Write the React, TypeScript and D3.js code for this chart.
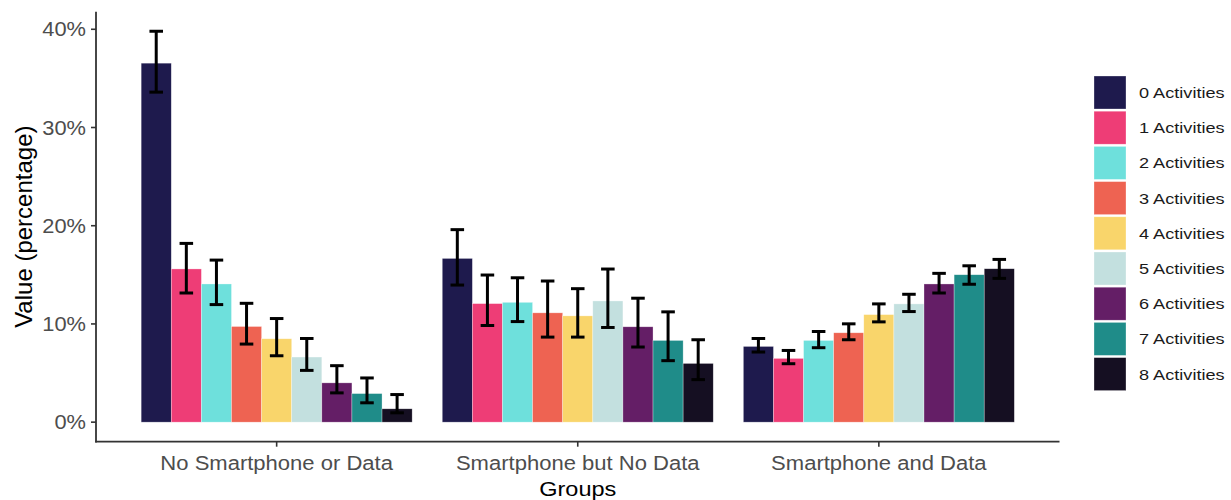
import React from "react";
import * as d3 from "d3";

const groups = ["No Smartphone or Data", "Smartphone but No Data", "Smartphone and Data"];
const activities = [
  "0 Activities", "1 Activities", "2 Activities", "3 Activities", "4 Activities",
  "5 Activities", "6 Activities", "7 Activities", "8 Activities",
];
const colors = ["#1e1a4d", "#ee3d76", "#6ee0dc", "#ee6352", "#f9d56b", "#c3e0df", "#641e66", "#1f8c89", "#150f22"];

const valuesNoSmartphone = [36.55, 15.6, 14.07, 9.74, 8.49, 6.63, 4.0, 2.91, 1.36];
const lowerNoSmartphone = [33.6, 13.15, 11.97, 7.95, 6.76, 5.27, 2.98, 1.97, 0.95];
const upperNoSmartphone = [39.8, 18.2, 16.5, 12.1, 10.55, 8.52, 5.75, 4.5, 2.81];

const valuesNoData = [16.67, 12.07, 12.2, 11.13, 10.82, 12.34, 9.71, 8.32, 5.98];
const lowerNoData = [13.96, 9.84, 10.24, 8.66, 8.66, 9.64, 7.65, 6.26, 4.33];
const upperNoData = [19.6, 14.98, 14.7, 14.37, 13.59, 15.59, 12.62, 11.23, 8.39];

const valuesBoth = [7.71, 6.49, 8.32, 9.1, 10.95, 12.04, 14.07, 15.01, 15.62];
const lowerBoth = [7.14, 5.95, 7.58, 8.39, 10.21, 11.26, 13.15, 14.04, 14.64];
const upperBoth = [8.52, 7.3, 9.23, 10.01, 12.04, 13.02, 15.15, 15.92, 16.57];

const yTicks = [0, 10, 20, 30, 40];

const seriesByGroup = [
  { v: valuesNoSmartphone, lo: lowerNoSmartphone, hi: upperNoSmartphone },
  { v: valuesNoData, lo: lowerNoData, hi: upperNoData },
  { v: valuesBoth, lo: lowerBoth, hi: upperBoth },
];

const W = 1231;
const H = 500;
const panel = { left: 96, right: 1059.5, top: 11.7, bottom: 441.7 };
const FONT = "'Liberation Sans', Arial, Helvetica, sans-serif";

export default function App() {
  const rows = groups.flatMap((g, gi) =>
    activities.map((a, ai) => ({
      group: g,
      act: a,
      ai,
      value: seriesByGroup[gi].v[ai],
      lo: seriesByGroup[gi].lo[ai],
      hi: seriesByGroup[gi].hi[ai],
    }))
  );

  const dataMax = d3.max(rows, (r) => Math.max(r.hi, r.value)) as number;
  const dataMin = Math.min(0, d3.min(rows, (r) => r.lo) as number);
  const pad = (dataMax - dataMin) * 0.05;
  const y = d3.scaleLinear().domain([dataMin - pad, dataMax + pad]).range([panel.bottom, panel.top]);

  const x0 = d3.scalePoint<string>().domain(groups).range([panel.left, panel.right]).padding(0.6);
  const step = x0.step();
  const x1 = d3.scaleBand<string>().domain(activities).range([-0.45 * step, 0.45 * step]).padding(0);
  const bw = x1.bandwidth();
  const capW = bw * 0.45;
  const color = d3.scaleOrdinal<string, string>().domain(activities).range(colors);

  const legendX = 1094;
  const legendY = 76;
  const legendStep = 35.2;

  return (
    <svg width={W} height={H} style={{ position: "absolute", left: 0, top: 0, background: "#fff" }} fontFamily={FONT}>
      {/* bars */}
      {rows.map((r, i) => {
        const cx = (x0(r.group) as number) + (x1(r.act) as number);
        return (
          <rect
            key={"b" + i}
            x={cx}
            y={y(r.value)}
            width={bw}
            height={y(0) - y(r.value)}
            fill={color(r.act)}
            stroke="#ffffff"
            strokeOpacity={0.5}
            strokeWidth={0.6}
          />
        );
      })}
      {/* error bars */}
      {rows.map((r, i) => {
        const cx = (x0(r.group) as number) + (x1(r.act) as number) + bw / 2;
        return (
          <g key={"e" + i} stroke="#000" strokeWidth={3} fill="none">
            <line x1={cx} x2={cx} y1={y(r.lo)} y2={y(r.hi)} />
            <line x1={cx - capW / 2} x2={cx + capW / 2} y1={y(r.lo)} y2={y(r.lo)} />
            <line x1={cx - capW / 2} x2={cx + capW / 2} y1={y(r.hi)} y2={y(r.hi)} />
          </g>
        );
      })}
      {/* axes */}
      <line x1={panel.left} x2={panel.left} y1={panel.top} y2={panel.bottom + 0.8} stroke="#333" strokeWidth={1.8} />
      <line x1={panel.left - 0.8} x2={panel.right} y1={panel.bottom} y2={panel.bottom} stroke="#333" strokeWidth={1.8} />
      {yTicks.map((t) => (
        <g key={"yt" + t}>
          <line x1={panel.left - 5} x2={panel.left} y1={y(t)} y2={y(t)} stroke="#333" strokeWidth={1.6} />
          <text
            transform={`translate(${panel.left - 10},${y(t)}) scale(1.12,1)`}
            textAnchor="end"
            dy="0.36em"
            fontSize={19.5}
            fill="#4d4d4d"
          >
            {t + "%"}
          </text>
        </g>
      ))}
      {groups.map((g) => (
        <g key={"xt" + g}>
          <line x1={x0(g)} x2={x0(g)} y1={panel.bottom} y2={panel.bottom + 5} stroke="#333" strokeWidth={1.6} />
          <text
            transform={`translate(${x0(g)},${469.5}) scale(1.13,1)`}
            textAnchor="middle"
            fontSize={19.5}
            fill="#4d4d4d"
          >
            {g}
          </text>
        </g>
      ))}
      {/* axis titles */}
      <text
        transform={`translate(${(panel.left + panel.right) / 2},${495.5}) scale(1.12,1)`}
        textAnchor="middle"
        fontSize={21}
        fill="#000"
      >
        Groups
      </text>
      <text
        transform={`translate(32,${(panel.top + panel.bottom) / 2}) rotate(-90)`}
        textAnchor="middle"
        fontSize={24}
        fill="#000"
      >
        Value (percentage)
      </text>
      {/* legend */}
      {activities.map((a, i) => (
        <g key={"lg" + a}>
          <rect
            x={legendX}
            y={legendY + i * legendStep}
            width={32}
            height={33}
            fill={color(a)}
            stroke="#ffffff"
            strokeOpacity={0.5}
            strokeWidth={0.6}
          />
          <text
            transform={`translate(1139,${legendY + i * legendStep + 16.5}) scale(1.17,1)`}
            dy="0.36em"
            fontSize={15.5}
            fill="#1a1a1a"
          >
            {a}
          </text>
        </g>
      ))}
    </svg>
  );
}
